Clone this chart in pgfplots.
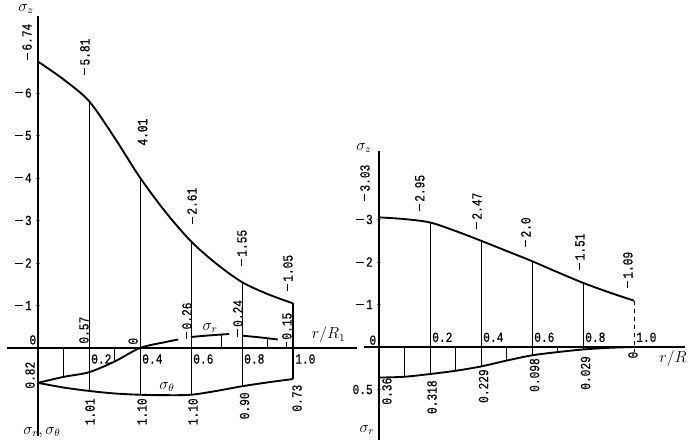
\documentclass[border=0pt]{standalone}
\usepackage{pgfplots}
\pgfplotsset{compat=1.18}
\usepackage{pgfplotstable}
\usepackage{fontspec}
\newfontfamily\lab[FakeStretch=0.8, FakeBold=0.4]{Liberation Mono}
\newfontfamily\labb[FakeStretch=0.8, FakeBold=1.6]{Liberation Mono}
\newcommand{\ld}{\rule[0.3em]{5.5pt}{0.7pt}\,}

\pgfplotstableread{
r    sz    sth
0.0  6.74  0.82
0.1  6.32  0.93
0.2  5.81  1.01
0.3  4.95  1.07
0.4  4.01  1.10
0.5  3.20  1.11
0.6  2.51  1.10
0.7  1.98  1.01
0.8  1.55  0.90
0.9  1.27  0.81
1.0  1.05  0.73
}\leftdata

\pgfplotstableread{
r    sz    sr
0.0  3.05  0.36
0.1  3.01  0.35
0.2  2.93  0.318
0.3  2.73  0.28
0.4  2.50  0.229
0.5  2.26  0.16
0.6  2.02  0.098
0.7  1.76  0.06
0.8  1.51  0.029
0.9  1.29  0.01
1.0  1.09  0.0
}\rightdata

\begin{document}
\begin{tikzpicture}[
  lbl/.style={font=\lab\fontsize{10.5}{10.5}\selectfont, inner sep=0pt},
  rl/.style={lbl, rotate=90},
  ml/.style={font=\fontsize{12}{12}\selectfont, inner sep=0pt},
  curve/.style={line width=1.4pt, smooth, black},
  vline/.style={line width=0.6pt, black},
]
\path[use as bounding box] (-28.5pt,-72.75pt) rectangle (488.25pt,261pt);

% ---------------- left diagram ----------------
\begin{axis}[
  x=191.25pt, y=31.875pt, anchor=origin, at={(0pt,0pt)},
  xmin=-0.12, xmax=1.25, ymin=-2.08, ymax=7.8,
  axis lines=middle, axis line style={-, line width=0.9pt},
  clip=false, unbounded coords=jump,
  xtick={0.2,0.4,0.6,0.8,1.0},
  xticklabels={0.2,0.4,0.6,0.8,1.0},
  major x tick style={draw=none},
  xticklabel style={lbl, anchor=north west, xshift=1.5pt, yshift=-3pt},
  ytick={1,2,3,4,5,6},
  yticklabels={{\ld 1},{\ld 2},{\ld 3},{\ld 4},{\ld 5},{\ld 6}},
  yticklabel style={lbl, anchor=east, xshift=-3pt},
  major y tick style={line width=0.6pt},
  major tick length=3pt,
]
\addplot[curve] table[x=r, y=sz] {\leftdata};
\addplot[curve] table[x=r, y expr=-\thisrow{sth}] {\leftdata};
\addplot[curve] coordinates {(0,-0.82) (0.1,-0.68) (0.2,-0.57) (0.3,-0.32) (0.4,0) (0.5,0.14) (0.55,0.2)};
\addplot[curve] coordinates {(0.6,0.26) (0.68,0.3) (0.75,0.33)};
\addplot[curve] coordinates {(0.8,0.29) (0.87,0.25) (0.94,0.2)};
\addplot[vline] coordinates {(0.2,5.81) (0.2,-1.01) (0.2,nan)
  (0.4,4.01) (0.4,-1.10) (0.4,nan)
  (0.6,2.51) (0.6,-1.10) (0.6,nan)
  (0.8,1.55) (0.8,-0.90) (0.8,nan)
  (0.1,0) (0.1,-0.68) (0.1,nan)
  (0.3,0) (0.3,-0.32) (0.3,nan)
  (0.72,0) (0.72,0.31) (0.72,nan)
  (0.9,0) (0.9,0.22)};
\addplot[line width=1.2pt] coordinates {(1.0,1.05) (1.0,-0.73)};

\node[ml] at (axis cs:-0.047,7.98) {$\sigma_z$};
\node[rl] at (axis cs:-0.043,7.2) {\ld 6.74};
\node[rl] at (axis cs:0.184,6.85) {\ld 5.81};
\node[rl,font=\labb\fontsize{10.5}{10.5}\selectfont] at (axis cs:0.41,5.08) {4.01};
\node[rl] at (axis cs:0.604,3.34) {\ld 2.61};
\node[rl] at (axis cs:0.80,2.35) {\ld 1.55};
\node[rl] at (axis cs:0.98,1.76) {\ld 1.05};
\node[rl] at (axis cs:0.18,0.42) {0.57};
\node[rl] at (axis cs:0.373,0.16) {0};
\node[rl] at (axis cs:0.584,0.64) {\ld 0.26};
\node[ml] at (axis cs:0.675,0.47) {$\sigma_r$};
\node[rl] at (axis cs:0.784,0.7) {\ld 0.24};
\node[rl] at (axis cs:0.976,0.4) {\ld 0.15};
\node[rl] at (axis cs:-0.031,-0.64) {0.82};
\node[rl] at (axis cs:0.204,-1.5) {1.01};
\node[rl] at (axis cs:0.408,-1.5) {1.10};
\node[rl] at (axis cs:0.608,-1.5) {1.10};
\node[rl] at (axis cs:0.81,-1.36) {0.90};
\node[rl] at (axis cs:1.016,-1.18) {0.73};
\node[ml] at (axis cs:0.506,-0.92) {$\sigma_\theta$};
\node[ml] at (axis cs:0.016,-1.98) {$\sigma_r,\sigma_\theta$};
\node[ml] at (axis cs:1.14,0.31) {$r/R_1$};
\node[lbl] at (axis cs:-0.02,0.19) {0};
\end{axis}

% ---------------- right diagram ----------------
\begin{axis}[
  x=191.25pt, y=31.875pt, anchor=origin, at={(255.75pt,0.75pt)},
  xmin=-0.06, xmax=1.2, ymin=-2.18, ymax=4.6,
  axis lines=middle, axis line style={-, line width=0.9pt},
  clip=false, unbounded coords=jump,
  xtick={0.2,0.4,0.6,0.8,1.0},
  xticklabels={0.2,0.4,0.6,0.8,1.0},
  major x tick style={draw=none},
  xticklabel style={lbl, anchor=south west, xshift=1.5pt, yshift=5pt},
  ytick={-1,1,2,3},
  yticklabels={0.5,{\ld 1},{\ld 2},{\ld 3}},
  yticklabel style={lbl, anchor=east, xshift=-3pt},
  major y tick style={line width=0.6pt},
  major tick length=3pt,
]
\addplot[curve] table[x=r, y=sz] {\rightdata};
\addplot[curve] table[x=r, y expr=-2*\thisrow{sr}] {\rightdata};
\addplot[vline] coordinates {(0.2,2.93) (0.2,-0.636) (0.2,nan)
  (0.4,2.50) (0.4,-0.458) (0.4,nan)
  (0.6,2.02) (0.6,-0.196) (0.6,nan)
  (0.8,1.51) (0.8,-0.058) (0.8,nan)
  (0.1,0) (0.1,-0.70) (0.1,nan)
  (0.3,0) (0.3,-0.56) (0.3,nan)
  (0.5,0) (0.5,-0.32) (0.5,nan)
  (0.7,0) (0.7,-0.12)};
\addplot[vline, dashed] coordinates {(1.0,1.09) (1.0,-0.12)};

\node[ml] at (axis cs:-0.059,4.68) {$\sigma_z$};
\node[rl] at (axis cs:-0.055,3.86) {\ld 3.03};
\node[rl] at (axis cs:0.16,3.62) {\ld 2.95};
\node[rl] at (axis cs:0.384,3.2) {\ld 2.47};
\node[rl] at (axis cs:0.576,2.7) {\ld 2.0};
\node[rl] at (axis cs:0.788,2.24) {\ld 1.51};
\node[rl] at (axis cs:0.976,1.81) {\ld 1.09};
\node[rl] at (axis cs:0.031,-1.04) {0.36};
\node[rl] at (axis cs:0.208,-1.18) {0.318};
\node[rl] at (axis cs:0.41,-0.92) {0.229};
\node[rl] at (axis cs:0.61,-0.66) {0.098};
\node[rl] at (axis cs:0.81,-0.61) {0.029};
\node[rl] at (axis cs:0.996,-0.19) {0};
\node[ml] at (axis cs:-0.047,-1.95) {$\sigma_r$};
\node[ml] at (axis cs:1.153,-0.26) {$r/R$};
\node[lbl] at (axis cs:-0.024,0.16) {0};
\end{axis}
\end{tikzpicture}
\end{document}
